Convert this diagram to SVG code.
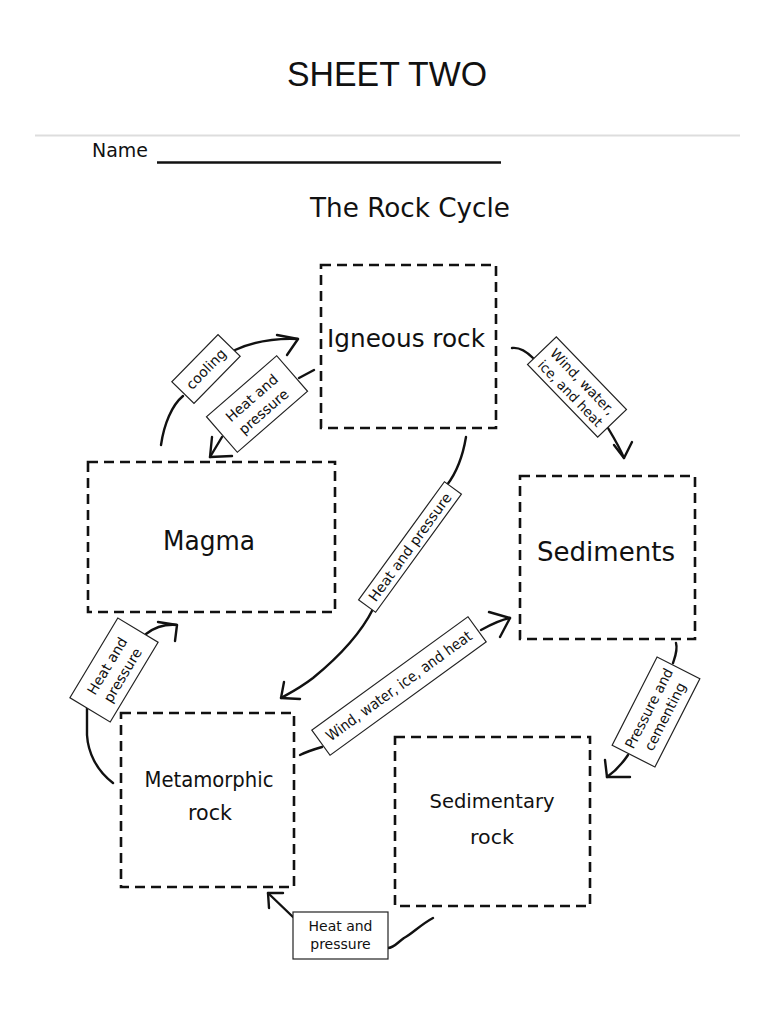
<svg xmlns="http://www.w3.org/2000/svg" width="773" height="1024" viewBox="0 0 773 1024">
<style>
.box{fill:none;stroke:#111;stroke-width:2.6;stroke-dasharray:10 6}
.lbl{fill:#fff;stroke:#222;stroke-width:1.2}
.con{fill:none;stroke:#111;stroke-width:2.4;stroke-linecap:round;stroke-linejoin:round}
.hand{font-family:"DejaVu Sans","Open Sans",sans-serif;fill:#111;text-anchor:middle}
.node{font-size:24px}
.small{font-size:14px}
</style>
<rect x="0" y="0" width="773" height="1024" fill="#fff"/>
<text x="387" y="86" font-family="Liberation Sans, Arial, sans-serif" font-size="35" text-anchor="middle" textLength="200" lengthAdjust="spacingAndGlyphs" fill="#111">SHEET TWO</text>
<line x1="35" y1="135.5" x2="740" y2="135.5" stroke="#ddd" stroke-width="2"/>
<text x="92" y="157" class="hand" style="text-anchor:start;font-size:19px" textLength="56" lengthAdjust="spacingAndGlyphs">Name</text>
<line x1="157" y1="162.5" x2="501" y2="162.5" stroke="#111" stroke-width="2.5"/>
<text x="410" y="217" class="hand" style="font-size:27px" textLength="200" lengthAdjust="spacingAndGlyphs">The Rock Cycle</text>

<g id="igneous">
<rect class="box" x="321" y="265" width="175" height="163"/>
<text x="406" y="347" class="hand node" textLength="158" lengthAdjust="spacingAndGlyphs">Igneous rock</text>
</g>
<g id="magma">
<rect class="box" x="88" y="462" width="247" height="150"/>
<text x="209" y="550" class="hand" style="font-size:26px" textLength="92" lengthAdjust="spacingAndGlyphs">Magma</text>
</g>
<g id="sediments">
<rect class="box" x="520" y="476" width="175" height="163"/>
<text x="606" y="561" class="hand" style="font-size:26px" textLength="138" lengthAdjust="spacingAndGlyphs">Sediments</text>
</g>
<g id="metamorphic">
<rect class="box" x="121" y="713" width="173" height="174"/>
<text x="209" y="787" class="hand" style="font-size:21px" textLength="129" lengthAdjust="spacingAndGlyphs">Metamorphic</text>
<text x="210" y="820" class="hand" style="font-size:21px" textLength="44" lengthAdjust="spacingAndGlyphs">rock</text>
</g>
<g id="sedimentary">
<rect class="box" x="395" y="737" width="195" height="169"/>
<text x="492" y="808" class="hand" style="font-size:20px" textLength="125" lengthAdjust="spacingAndGlyphs">Sedimentary</text>
<text x="492" y="844" class="hand" style="font-size:20px" textLength="44" lengthAdjust="spacingAndGlyphs">rock</text>
</g>

<g id="connectors">
<path class="con" d="M161,445 C164,424 172,405 183,396"/>
<path class="con" d="M235,350 C255,341 275,338 298,339"/>
<polyline class="con" points="277,335 298,339 287,355"/>
<path class="con" d="M314,370 L299,378"/>
<path class="con" d="M222,437 L210,457"/>
<polyline class="con" points="212,437 210,457 232,456"/>
<path class="con" d="M512,348 C520,347 527,352 533,358"/>
<path class="con" d="M608,428 C614,438 620,448 624,458"/>
<polyline class="con" points="614,445 624,458 632,442"/>
<path class="con" d="M466,437 C463,455 457,472 447,485"/>
<path class="con" d="M373,609 C360,635 335,660 313,678 C300,688 290,693 281,698"/>
<polyline class="con" points="284,682 281,698 300,699"/>
<path class="con" d="M300,755 C308,751 315,749 322,747"/>
<path class="con" d="M481,630 C490,625 500,620 510,618"/>
<polyline class="con" points="489,612 510,618 500,637"/>
<path class="con" d="M676,643 C678,650 675,657 673,663"/>
<path class="con" d="M628,755 C622,764 614,772 607,777"/>
<polyline class="con" points="605,760 607,777 630,777"/>
<path class="con" d="M113,783 C96,770 88,752 87,735 L87,708"/>
<path class="con" d="M146,634 C155,627 165,624 177,625"/>
<polyline class="con" points="158,622 177,625 175,641"/>
<path class="con" d="M433,918 C420,925 412,934 404,938 C398,942 394,948 388,948"/>
<path class="con" d="M293,917 L268,893"/>
<polyline class="con" points="283,893 268,893 269,908"/>
</g>

<g id="label-cooling" transform="translate(206,369) rotate(-45.6)">
<rect class="lbl" x="-33" y="-15.5" width="66" height="31"/>
<text class="hand small" x="0" y="5">cooling</text>
</g>
<g id="label-hp1" transform="translate(257,404) rotate(-41)">
<rect class="lbl" x="-46.5" y="-23.5" width="93" height="47"/>
<text class="hand small" x="0" y="-3">Heat and</text>
<text class="hand small" x="0" y="15">pressure</text>
</g>
<g id="label-wwih1" transform="translate(577,387) rotate(46)">
<rect class="lbl" x="-50.5" y="-20" width="101" height="40"/>
<text class="hand" style="font-size:13.5px" x="0" y="-3" textLength="86" lengthAdjust="spacingAndGlyphs">Wind, water,</text>
<text class="hand" style="font-size:13.5px" x="0" y="14" textLength="86" lengthAdjust="spacingAndGlyphs">ice, and heat</text>
</g>
<g id="label-hp2" transform="translate(410,547) rotate(-54)">
<rect class="lbl" x="-73" y="-10.5" width="146" height="21"/>
<text class="hand small" x="0" y="5" textLength="130" lengthAdjust="spacingAndGlyphs">Heat and pressure</text>
</g>
<g id="label-wwih2" transform="translate(399,686) rotate(-36)">
<rect class="lbl" x="-96.5" y="-15.5" width="193" height="31"/>
<text class="hand" style="font-size:15px" x="0" y="5" textLength="176" lengthAdjust="spacingAndGlyphs">Wind, water, ice, and heat</text>
</g>
<g id="label-pc" transform="translate(656,712) rotate(-63)">
<rect class="lbl" x="-49.5" y="-24" width="99" height="48"/>
<text class="hand small" x="0" y="-3" textLength="88" lengthAdjust="spacingAndGlyphs">Pressure and</text>
<text class="hand small" x="0" y="15">cementing</text>
</g>
<g id="label-hp3" transform="translate(114,670) rotate(-59)">
<rect class="lbl" x="-46.5" y="-23.5" width="93" height="47"/>
<text class="hand small" x="0" y="-3">Heat and</text>
<text class="hand small" x="0" y="15">pressure</text>
</g>
<g id="label-hp4">
<rect class="lbl" x="293" y="912" width="95" height="47"/>
<text class="hand small" x="340.5" y="931">Heat and</text>
<text class="hand small" x="340.5" y="949">pressure</text>
</g>
</svg>
